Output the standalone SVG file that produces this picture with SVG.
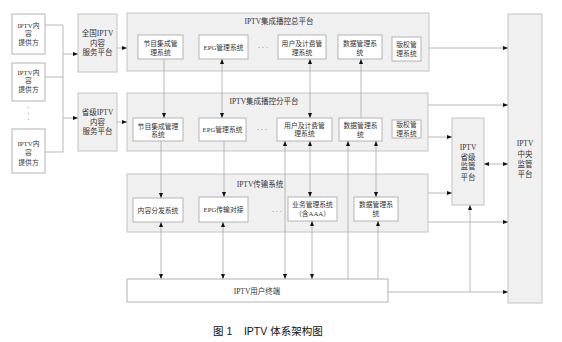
<svg xmlns="http://www.w3.org/2000/svg" width="562" height="342" viewBox="0 0 562 342">
<style>
.g{fill:#f0f0f0;stroke:#c4c4c4;stroke-width:1}
.w{fill:#fff;stroke:#b4b4b4;stroke-width:1}
.t{font-family:"Liberation Serif","Noto Sans CJK SC",serif;font-size:6.8px;fill:#333;text-anchor:middle;dominant-baseline:central}
.h{font-family:"Liberation Serif","Noto Sans CJK SC",serif;font-size:7.5px;fill:#333;text-anchor:middle;dominant-baseline:central}
.c{font-family:"Liberation Sans","Noto Sans CJK SC",sans-serif;font-size:10.5px;fill:#111;dominant-baseline:central}
.l{fill:none;stroke:#a8a8a8;stroke-width:0.8}
.a{marker-end:url(#ah)}
.b{marker-start:url(#as);marker-end:url(#ah)}
</style>
<defs>
<marker id="ah" markerUnits="userSpaceOnUse" markerWidth="6" markerHeight="5" refX="5" refY="2" orient="auto"><path d="M0,0 L5,2 L0,4 z" fill="#111"/></marker>
<marker id="as" markerUnits="userSpaceOnUse" markerWidth="6" markerHeight="5" refX="0" refY="2" orient="auto"><path d="M5,0 L0,2 L5,4 z" fill="#111"/></marker>
</defs>
<rect width="562" height="342" fill="#fff"/>

<g id="providers">
<g id="p1"><rect class="w" x="12" y="14" width="33" height="40"/><text class="t" x="28.5" y="25">IPTV内</text><text class="t" x="28.5" y="33">容</text><text class="t" x="28.5" y="42">提供方</text></g>
<g id="p2"><rect class="w" x="12" y="63" width="33" height="38"/><text class="t" x="28.5" y="72">IPTV内</text><text class="t" x="28.5" y="80">容</text><text class="t" x="28.5" y="89">提供方</text></g>
<g id="pdots"><text class="t" x="28.5" y="107">·</text><text class="t" x="28.5" y="113">·</text><text class="t" x="28.5" y="119">·</text></g>
<g id="p3"><rect class="w" x="12" y="129" width="33" height="44"/><text class="t" x="28.5" y="143">IPTV内</text><text class="t" x="28.5" y="152">容</text><text class="t" x="28.5" y="162">提供方</text></g>
</g>

<g id="national"><rect class="g" x="78" y="14" width="39" height="58"/><text class="h" x="97.5" y="33">全国IPTV</text><text class="h" x="97.5" y="43">内容</text><text class="h" x="97.5" y="52">服务平台</text></g>
<g id="provincial"><rect class="g" x="78" y="93" width="39" height="58"/><text class="h" x="97.5" y="112">省级IPTV</text><text class="h" x="97.5" y="122">内容</text><text class="h" x="97.5" y="131">服务平台</text></g>

<g id="total">
<rect class="g" x="127" y="13" width="302" height="58"/>
<text class="h" x="279" y="21">IPTV集成播控总平台</text>
<g id="t1"><rect class="w" x="138" y="35" width="45" height="24"/><text class="t" x="160.5" y="43">节目集成管</text><text class="t" x="160.5" y="52">理系统</text></g>
<g id="t2"><rect class="w" x="199" y="35" width="49" height="24"/><text class="t" x="223.5" y="47">EPG管理系统</text></g>
<text class="t" x="263" y="47">· · ·</text>
<g id="t3"><rect class="w" x="278" y="35" width="48" height="24"/><text class="t" x="302" y="43">用户及计费管</text><text class="t" x="302" y="52">理系统</text></g>
<g id="t4"><rect class="w" x="338" y="35" width="44" height="24"/><text class="t" x="360" y="43">数据管理系</text><text class="t" x="360" y="52">统</text></g>
<g id="t5"><rect class="w" x="392" y="37" width="29" height="24"/><text class="t" x="406.5" y="44">版权管</text><text class="t" x="406.5" y="53">理系统</text></g>
</g>

<g id="sub">
<rect class="g" x="127" y="93" width="301" height="58"/>
<text class="h" x="264" y="101">IPTV集成播控分平台</text>
<g id="s1"><rect class="w" x="133" y="118" width="50" height="23"/><text class="t" x="158" y="126">节目集成管理</text><text class="t" x="158" y="134">系统</text></g>
<g id="s2"><rect class="w" x="199" y="118" width="47" height="23"/><text class="t" x="222.5" y="129.5">EPG管理系统</text></g>
<text class="t" x="262" y="129">· · ·</text>
<g id="s3"><rect class="w" x="277" y="118" width="55" height="23"/><text class="t" x="304.5" y="125.5">用户及计费管</text><text class="t" x="304.5" y="133.5">理系统</text></g>
<g id="s4"><rect class="w" x="339" y="118" width="43" height="23"/><text class="t" x="360.5" y="125.5">数据管理系</text><text class="t" x="360.5" y="134">统</text></g>
<g id="s5"><rect class="w" x="392" y="120" width="29" height="18"/><text class="t" x="406.5" y="124.5">版权管</text><text class="t" x="406.5" y="133">理系统</text></g>
</g>

<g id="transport">
<rect class="g" x="127" y="174" width="301" height="58"/>
<text class="h" x="260" y="184">IPTV传输系统</text>
<g id="r1"><rect class="w" x="133" y="198" width="50" height="24"/><text class="t" x="158" y="210">内容分发系统</text></g>
<g id="r2"><rect class="w" x="199" y="197" width="49" height="25"/><text class="t" x="223.5" y="209">EPG传输对接</text></g>
<text class="t" x="277" y="211">· · ·</text>
<g id="r3"><rect class="w" x="288" y="197" width="49" height="24"/><text class="t" x="312.5" y="204.5">业务管理系统</text><text class="t" x="312.5" y="213">（含AAA）</text></g>
<g id="r4"><rect class="w" x="354" y="197" width="44" height="24"/><text class="t" x="376" y="204.5">数据管理系</text><text class="t" x="376" y="213">统</text></g>
</g>

<g id="terminal"><rect class="w" x="127" y="279" width="261" height="23" stroke="#c8c8c8"/><text class="h" x="257" y="291">IPTV用户终端</text></g>

<g id="provsup"><rect class="g" x="452" y="118" width="32" height="87"/><text class="h" x="468" y="147">IPTV</text><text class="h" x="468" y="157">省级</text><text class="h" x="468" y="166">监管</text><text class="h" x="468" y="177">平台</text></g>
<g id="central"><rect class="g" x="508" y="14" width="34" height="289"/><text class="h" x="525" y="143">IPTV</text><text class="h" x="525" y="154">中央</text><text class="h" x="525" y="164">监管</text><text class="h" x="525" y="174">平台</text></g>

<g id="connectors">
<path class="l" d="M45,25 H63 V152 H45 M45,77 H63"/>
<path class="l a" d="M63,54 H78"/>
<path class="l a" d="M63,118 H78"/>
<path class="l a" d="M117,48 H127"/>
<path class="l a" d="M117,122 H127"/>
<path class="l a" d="M429,48 H508"/>
<path class="l a" d="M428,105 H508"/>
<path class="l a" d="M428,137 H452"/>
<path class="l a" d="M428,193 H452"/>
<path class="l a" d="M428,222 H508"/>
<path class="l b" d="M484,164 H508"/>
<path class="l a" d="M388,292 H508"/>
<path class="l a" d="M470,292 V205"/>
<path class="l a" d="M164,59 V118"/>
<path class="l a" d="M161,141 V198"/>
<path class="l b" d="M161,222 V279"/>
<path class="l b" d="M222,118 V59"/>
<path class="l a" d="M224,141 V197"/>
<path class="l b" d="M223,222 V279"/>
<path class="l b" d="M310,118 V59"/>
<path class="l b" d="M285,279 V141"/>
<path class="l b" d="M310,141 V197"/>
<path class="l b" d="M312,221 V279"/>
<path class="l a" d="M361,118 V59"/>
<path class="l a" d="M348,279 V141"/>
<path class="l b" d="M376,141 V197"/>
<path class="l a" d="M378,279 V221"/>
</g>

<text class="c" x="213" y="331" xml:space="preserve">图 1    IPTV 体系架构图</text>
</svg>
